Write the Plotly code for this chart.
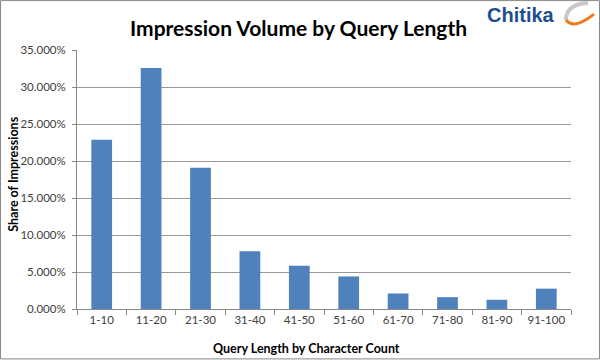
import plotly.graph_objects as go

categories = ["1-10", "11-20", "21-30", "31-40", "41-50", "51-60", "61-70", "71-80", "81-90", "91-100"]
share_pct = [22.9, 32.6, 19.1, 7.8, 5.85, 4.4, 2.1, 1.6, 1.25, 2.75]
y_ticks = [0, 5, 10, 15, 20, 25, 30, 35]
y_tick_labels = [f"{v:.3f}%" for v in y_ticks]

W, H = 600, 360
L, R, T, B = 77, 29, 50, 50.5
PW, PH = W - L - R, H - T - B


def px(x):
    return (x - L) / PW


def py(y):
    return 1 - (y - T) / PH


fig = go.Figure(
    go.Bar(x=categories, y=share_pct, marker=dict(color="#4f81bd", line=dict(width=0)))
)

fig.update_layout(
    width=W, height=H,
    margin=dict(l=L, r=R, t=T, b=B),
    paper_bgcolor="white", plot_bgcolor="white",
    bargap=0.58,
    showlegend=False,
    font=dict(family="Lato, 'Open Sans', sans-serif", color="#404040", size=11),
)

fig.update_xaxes(
    showline=True, linecolor="#888888", linewidth=1,
    ticks="outside", ticklen=5, tickcolor="#888888", tickson="boundaries",
    tickfont=dict(size=11.5, color="#404040"),
    showgrid=False,
)
fig.update_yaxes(
    range=[0, 35.02], tickvals=y_ticks, ticktext=y_tick_labels,
    showgrid=True, gridcolor="#999999", gridwidth=1,
    showline=True, linecolor="#888888", linewidth=1,
    ticks="outside", ticklen=4, tickcolor="#888888",
    tickfont=dict(size=11.5, color="#404040"),
    ticklabelstandoff=4,
    zeroline=False,
)

annotations = [
    dict(text="<b>Impression Volume by Query Length</b>", x=px(298), y=py(27),
         xref="paper", yref="paper", showarrow=False,
         font=dict(size=21, color="#000000", family="Lato, sans-serif"),
         xanchor="center", yanchor="middle"),
    dict(text="<b>Share of Impressions</b>", x=px(14), y=py(174),
         xref="paper", yref="paper", showarrow=False, textangle=-90,
         font=dict(size=12.5, color="#000000", family="Lato, sans-serif"),
         xanchor="center", yanchor="middle"),
    dict(text="<b>Query Length by Character Count</b>", x=px(306), y=py(349),
         xref="paper", yref="paper", showarrow=False,
         font=dict(size=12.5, color="#000000", family="Lato, sans-serif"),
         xanchor="center", yanchor="middle"),
    dict(text="<b>Chitika</b>", x=px(521), y=py(15),
         xref="paper", yref="paper", showarrow=False,
         font=dict(size=20, color="#1d4f8f", family="Liberation Sans, Arial, sans-serif"),
         xanchor="center", yanchor="middle"),
]
fig.update_layout(annotations=annotations)

shapes = [
    # outer border
    dict(type="rect", xref="paper", yref="paper",
         x0=px(0.5), x1=px(599.5), y0=py(359.5), y1=py(0.5),
         line=dict(color="#888888", width=1), fillcolor="rgba(0,0,0,0)", layer="above"),
    # logo swoosh (gray arc)
    dict(type="path", xref="paper", yref="paper",
         path=f"M {px(566)},{py(20)} Q {px(566)},{py(4)} {px(588)},{py(3)}",
         line=dict(color="#c8c8c8", width=4)),
    # logo swoosh (orange arc)
    dict(type="path", xref="paper", yref="paper",
         path=f"M {px(566)},{py(20)} Q {px(574)},{py(30)} {px(594)},{py(14)}",
         line=dict(color="#f07b1c", width=3)),
]
fig.update_layout(shapes=shapes)

fig.write_html("out.html")
